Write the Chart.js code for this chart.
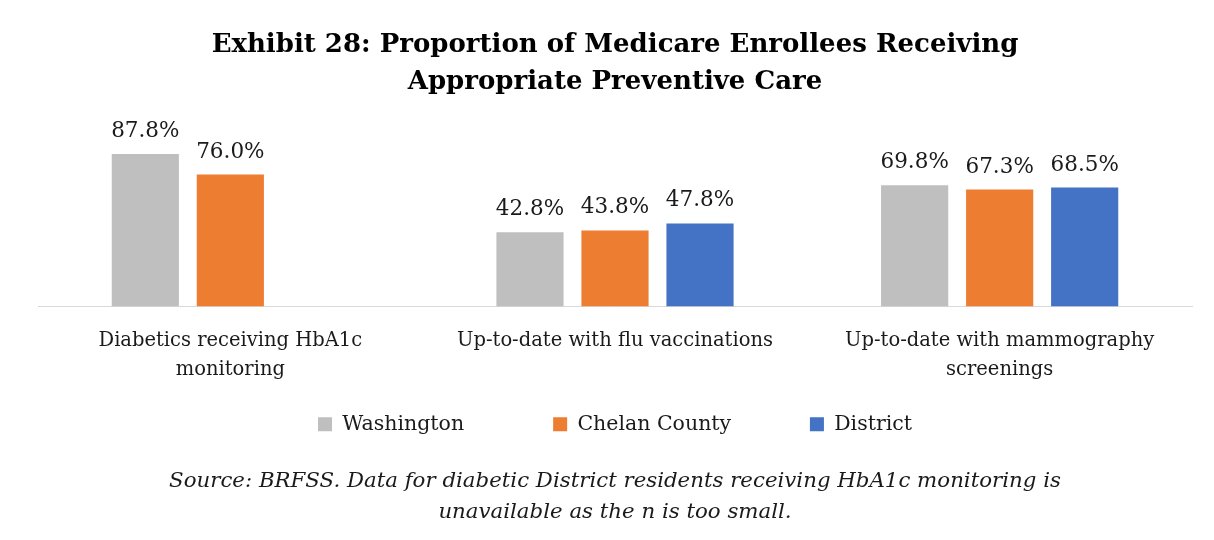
<!DOCTYPE html>
<html>
<head>
<meta charset="utf-8">
<script src="https://cdn.jsdelivr.net/npm/chart.js@4"></script>
<style>
html,body{margin:0;padding:0;background:#fff;}
#wrap{width:1214px;height:540px;position:relative;}
</style>
</head>
<body>
<div id="wrap"><canvas id="c" width="1214" height="540"></canvas></div>
<script>
const categories = [
  ["Diabetics receiving HbA1c", "monitoring"],
  ["Up-to-date with flu vaccinations"],
  ["Up-to-date with mammography", "screenings"]
];
const seriesNames = ["Washington", "Chelan County", "District"];
const washington = [87.8, 42.8, 69.8];
const chelan = [76.0, 43.8, 67.3];
const district = [null, 47.8, 68.5];
const colors = ["#bfbfbf", "#ed7d31", "#4472c4"];
const titleLines = ["Exhibit 28: Proportion of Medicare Enrollees Receiving", "Appropriate Preventive Care"];
const sourceLines = ["Source: BRFSS. Data for diabetic District residents receiving HbA1c monitoring is", "unavailable as the n is too small."];

const FONT = "'DejaVu Serif', serif";
const GAPS = ["\u2002\u2002\u2002\u2002\u2002\u2002\u2002", "\u2002\u2002\u2002\u2002\u2002\u2002", ""];

const valueLabels = {
  id: 'valueLabels',
  afterDatasetsDraw(chart) {
    const ctx = chart.ctx;
    ctx.save();
    ctx.font = "21.5px " + FONT;
    ctx.fillStyle = "#1a1a1a";
    ctx.textAlign = "center";
    ctx.textBaseline = "alphabetic";
    chart.data.datasets.forEach((ds, i) => {
      const meta = chart.getDatasetMeta(i);
      meta.data.forEach((el, j) => {
        const v = ds.data[j];
        if (v === null || v === undefined) return;
        ctx.fillText(v.toFixed(1) + "%", el.x, el.y - 17);
      });
    });
    ctx.restore();
  }
};

new Chart(document.getElementById('c'), {
  type: 'bar',
  data: {
    labels: categories,
    datasets: [
      { label: seriesNames[0], data: washington, backgroundColor: colors[0] },
      { label: seriesNames[1], data: chelan, backgroundColor: colors[1] },
      { label: seriesNames[2], data: district, backgroundColor: colors[2] }
    ]
  },
  options: {
    responsive: false,
    animation: false,
    devicePixelRatio: 1,
    categoryPercentage: 0.663,
    barPercentage: 0.79,
    layout: { padding: { left: 38, right: 22, top: 0, bottom: 0 } },
    scales: {
      x: {
        grid: { display: false },
        border: { display: true, color: "#d9d9d9", width: 1 },
        ticks: { color: "#1a1a1a", font: { family: FONT, size: 19.5, lineHeight: 1.47 }, padding: 12.5, maxRotation: 0, autoSkip: false }
      },
      y: { display: false, min: 0, max: 100 }
    },
    plugins: {
      title: {
        display: true,
        text: titleLines,
        color: "#000",
        font: { family: FONT, size: 26, weight: 'bold', lineHeight: 1.42 },
        padding: { top: 27, bottom: 32 }
      },
      subtitle: {
        display: true,
        position: 'bottom',
        text: sourceLines,
        color: "#1a1a1a",
        font: { family: FONT, size: 21.3, style: 'italic', lineHeight: 1.46 },
        padding: { top: 21.25, bottom: 12 }
      },
      legend: {
        position: 'bottom',
        labels: {
          color: "#1a1a1a",
          font: { family: FONT, size: 20.5 },
          boxWidth: 14,
          boxHeight: 14,
          padding: 17.25,
          generateLabels(chart) {
            const items = Chart.defaults.plugins.legend.labels.generateLabels(chart);
            items.forEach((it, k) => { it.text = it.text + (GAPS[k] || ""); });
            return items;
          }
        }
      },
      tooltip: { enabled: false }
    }
  },
  plugins: [valueLabels]
});
</script>
</body>
</html>
